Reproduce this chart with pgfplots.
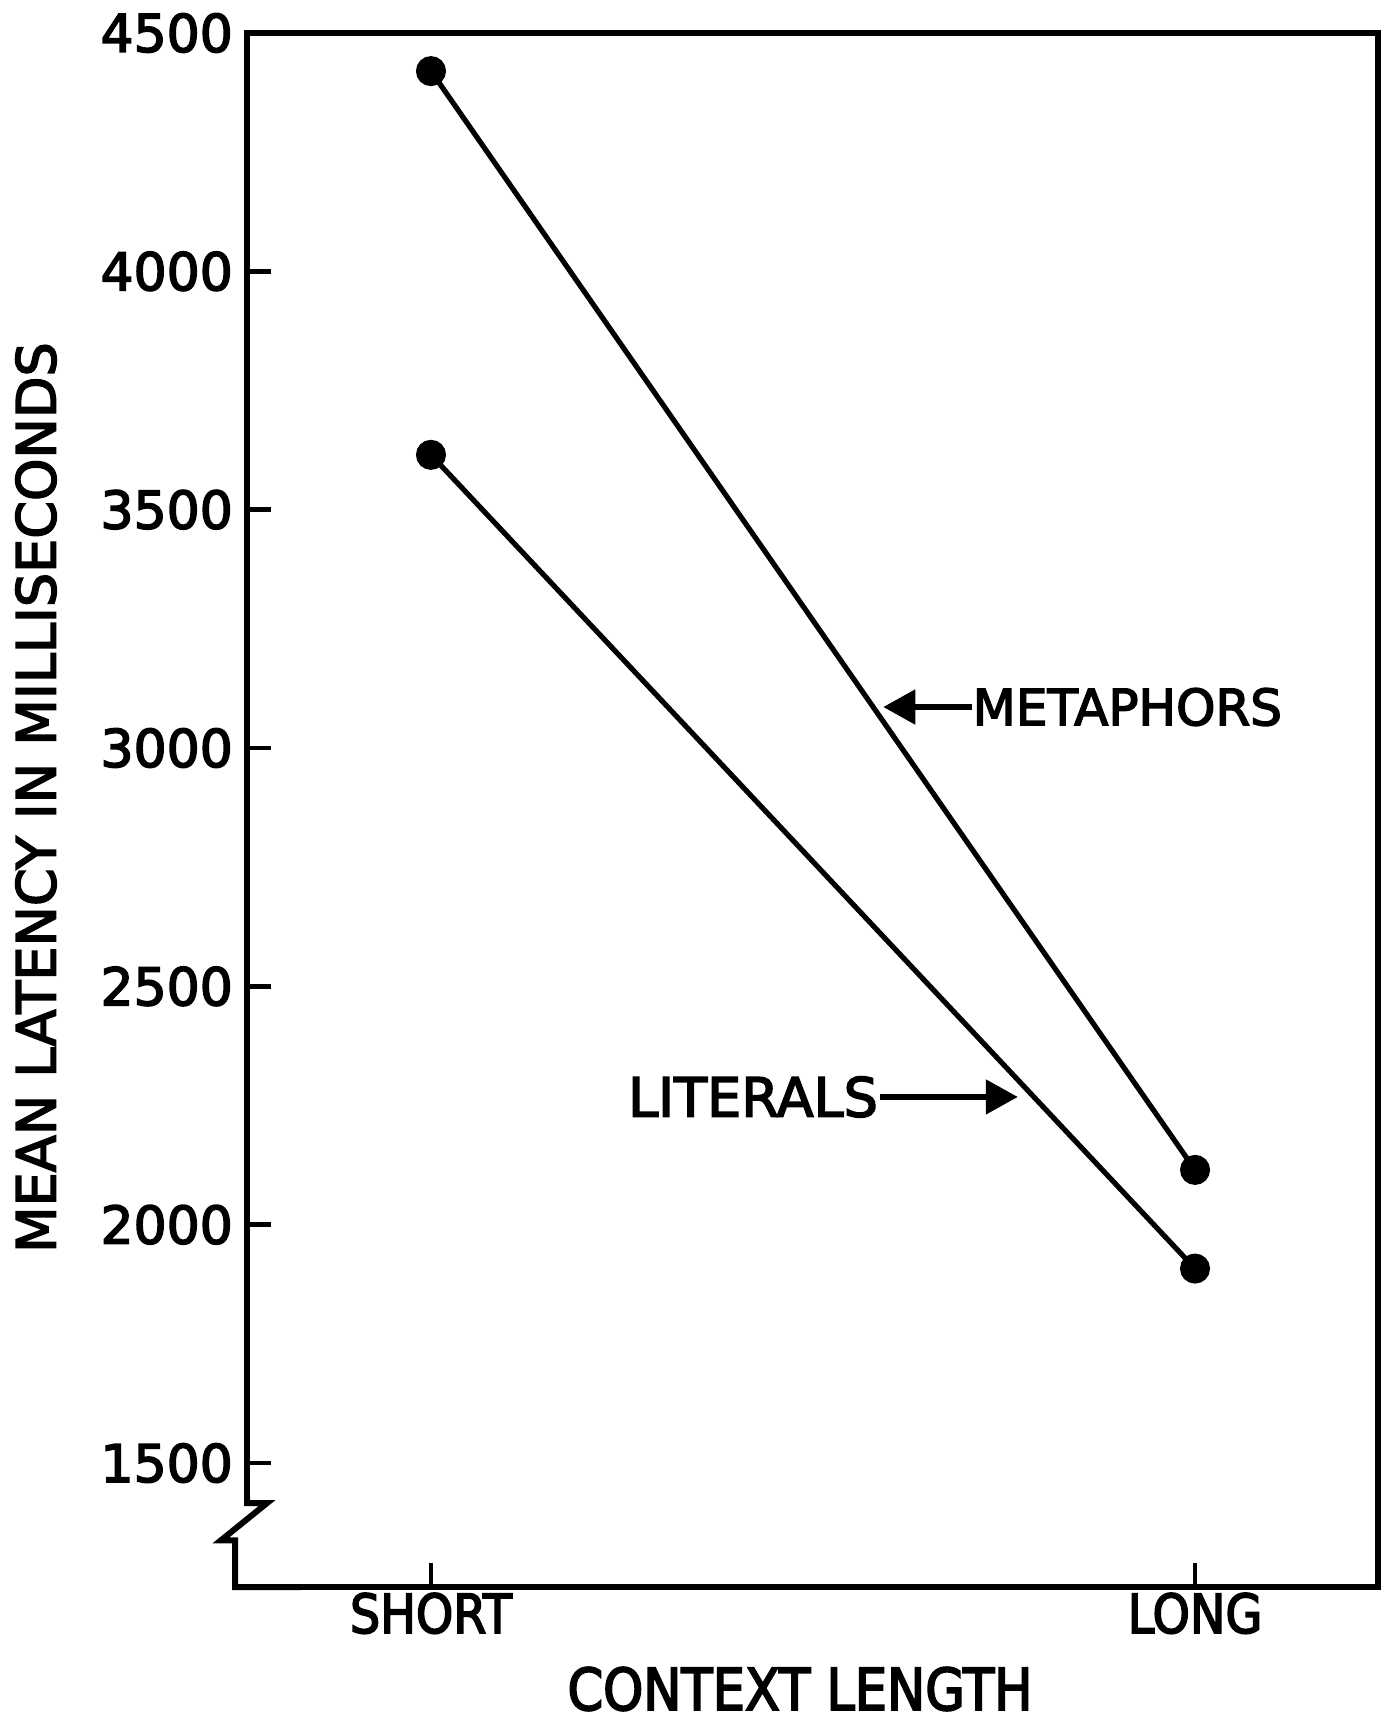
\documentclass[border=0pt]{standalone}
\usepackage{fontspec}
\setmainfont[FakeBold=3]{DejaVu Sans}
\newfontfamily\narrowf[FakeBold=3,FakeStretch=0.88]{DejaVu Sans}
\usepackage{pgfplots}
\pgfplotsset{compat=1.18}
\usetikzlibrary{arrows.meta}
\begin{document}
\begin{tikzpicture}
\begin{axis}[
  name=ax,
  scale only axis,
  width=282.75pt, height=388.5pt,
  xmin=-0.2408, xmax=1.2395,
  ymin=1240, ymax=4500,
  axis line style={line width=1.5pt},
  xtick={0,1}, xticklabels={SHORT,LONG},
  ytick={1500,2000,2500,3000,3500,4000,4500},
  tick align=inside,
  xtick pos=bottom, ytick pos=left,
  major tick length=6pt,
  tick style={line width=1.2pt, black},
  /pgf/number format/assume math mode=true,
  /pgf/number format/1000 sep={},
  yticklabel style={font=\fontsize{13}{15}\selectfont},
  xticklabel style={font=\narrowf\fontsize{13.5}{15}\selectfont, anchor=base, yshift=-11.5pt},
  xlabel={CONTEXT LENGTH},
  ylabel={MEAN LATENCY IN MILLISECONDS},
  xlabel style={font=\narrowf\fontsize{14.5}{15}\selectfont, at={(axis description cs:0.489,0)}, anchor=center, yshift=-25.5pt},
  ylabel style={font=\fontsize{13.5}{15}\selectfont, at={(axis description cs:-0.1866,0.508)}, anchor=center},
  clip=false,
]
\addplot[black, line width=1.3pt, mark=*, mark size=3.1pt] coordinates {(0,4420) (1,2115)};
\addplot[black, line width=1.3pt, mark=*, mark size=3.1pt] coordinates {(0,3615) (1,1908)};
% annotations
\draw[line width=1.3pt, -{Triangle[length=8pt,width=8.5pt]}] (axis cs:0.708,3086) -- (axis cs:0.592,3086);
\node[anchor=west, inner sep=0pt, font=\fontsize{12.5}{15}\selectfont] at (axis cs:0.708,3086) {METAPHORS};
\draw[line width=1.3pt, -{Triangle[length=8pt,width=8.5pt]}] (axis cs:0.588,2268) -- (axis cs:0.768,2268);
\node[anchor=east, inner sep=0pt, font=\fontsize{13.5}{15}\selectfont] at (axis cs:0.586,2268) {LITERALS};
% axis break
\fill[white] ([xshift=-4pt]axis cs:-0.2408,1416) rectangle ([xshift=3pt]axis cs:-0.2408,1225);
\draw[line width=1.5pt, line join=miter]
  (axis cs:-0.2408,1430) -- (axis cs:-0.2408,1416) -- ([xshift=5pt]axis cs:-0.2408,1416)
  -- ([xshift=-6.5pt]axis cs:-0.2408,1338) -- ([xshift=-3pt]axis cs:-0.2408,1338)
  -- ([xshift=-3pt]axis cs:-0.2408,1240) -- (axis cs:-0.17,1240);
\end{axis}
\pgfresetboundingbox
\path ([xshift=-61.75pt,yshift=-33pt]ax.south west) rectangle ([xshift=4.5pt,yshift=8.25pt]ax.north east);
\end{tikzpicture}
\end{document}
